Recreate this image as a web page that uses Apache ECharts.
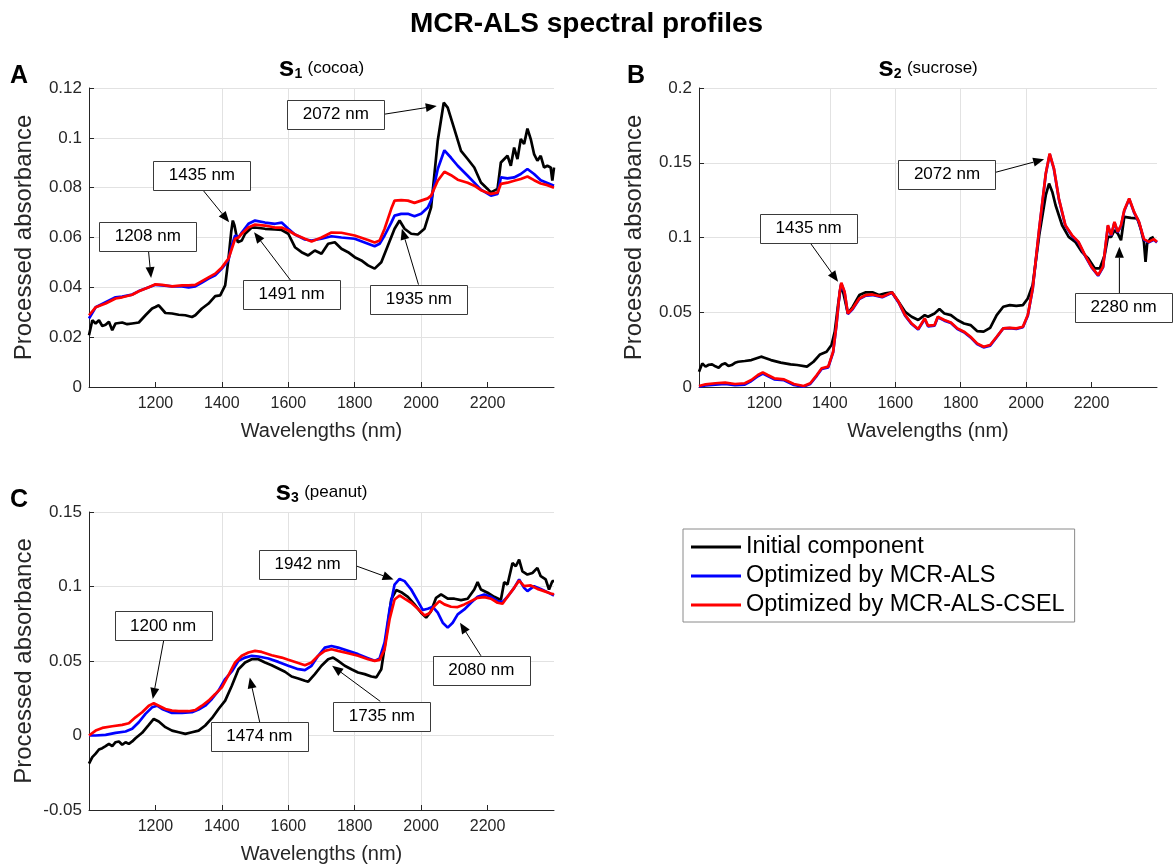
<!DOCTYPE html>
<html><head><meta charset="utf-8">
<script src="https://cdn.jsdelivr.net/npm/echarts@6/dist/echarts.min.js"></script>
<style>html,body{margin:0;padding:0;background:#fff}#c{width:1173px;height:865px}</style>
</head><body><div id="c"></div>
<script>
const FONT = '"Liberation Sans", Arial, Helvetica, sans-serif';
const seriesNames = ['Initial component', 'Optimized by MCR-ALS', 'Optimized by MCR-ALS-CSEL'];
const seriesColors = ['#000000', '#0000ff', '#ff0000'];
const panelLetters = ['A', 'B', 'C'];
const panelSubs = ['1', '2', '3'];
const panelNames = ['(cocoa)', '(sucrose)', '(peanut)'];
const xRange = [1000, 2400];
const xTicks = [1200, 1400, 1600, 1800, 2000, 2200];
const yTicksA = [0, 0.02, 0.04, 0.06, 0.08, 0.1, 0.12];
const yTicksB = [0, 0.05, 0.1, 0.15, 0.2];
const yTicksC = [-0.05, 0, 0.05, 0.1, 0.15];

// ---- Panel A: s1 (cocoa) ----
const s1Black = [[1000,0.0208],[1010,0.0268],[1020,0.0255],[1030,0.0268],[1040,0.0245],[1050,0.025],[1060,0.0262],[1070,0.0228],[1080,0.0255],[1100,0.0259],[1115,0.0252],[1130,0.0255],[1150,0.0259],[1170,0.0288],[1190,0.0315],[1200,0.0321],[1210,0.0328],[1230,0.0297],[1250,0.0295],[1270,0.029],[1290,0.0288],[1310,0.0281],[1320,0.0288],[1340,0.0315],[1360,0.0335],[1380,0.0365],[1395,0.0368],[1410,0.0408],[1420,0.0515],[1428,0.0621],[1433,0.0668],[1438,0.0648],[1448,0.0581],[1460,0.0588],[1470,0.0615],[1490,0.064],[1500,0.064],[1530,0.0635],[1560,0.0632],[1580,0.063],[1600,0.0615],[1620,0.0561],[1640,0.0541],[1660,0.0528],[1680,0.0548],[1700,0.0535],[1720,0.0575],[1740,0.0581],[1760,0.0555],[1780,0.0541],[1800,0.0521],[1820,0.0508],[1840,0.0488],[1860,0.0475],[1880,0.0501],[1900,0.0568],[1920,0.0635],[1935,0.0668],[1950,0.0635],[1970,0.0615],[1990,0.0612],[2010,0.0635],[2030,0.0721],[2050,0.0988],[2068,0.1141],[2080,0.1121],[2100,0.1035],[2120,0.0948],[2140,0.0915],[2160,0.0881],[2180,0.0821],[2200,0.0795],[2210,0.0781],[2230,0.0795],[2240,0.0901],[2260,0.0928],[2270,0.0888],[2280,0.0961],[2290,0.0915],[2300,0.0995],[2310,0.0975],[2320,0.1037],[2330,0.0995],[2340,0.0935],[2350,0.0908],[2360,0.0928],[2370,0.0881],[2380,0.0888],[2390,0.0881],[2395,0.0828],[2400,0.0881]];
const s1Blue = [[1000,0.0275],[1020,0.032],[1050,0.034],[1080,0.036],[1100,0.0363],[1130,0.0371],[1150,0.0385],[1180,0.040],[1200,0.041],[1220,0.0408],[1250,0.0404],[1280,0.0404],[1300,0.040],[1320,0.0404],[1340,0.0419],[1360,0.0435],[1380,0.0448],[1400,0.0475],[1420,0.051],[1430,0.0568],[1440,0.0608],[1450,0.060],[1460,0.062],[1480,0.0655],[1500,0.0668],[1530,0.066],[1560,0.0655],[1580,0.066],[1600,0.0635],[1620,0.0612],[1650,0.0592],[1670,0.0588],[1700,0.0595],[1730,0.0605],[1760,0.060],[1800,0.0595],[1840,0.0575],[1860,0.0565],[1875,0.0575],[1890,0.0608],[1910,0.066],[1920,0.0688],[1940,0.0695],[1960,0.0695],[1980,0.0685],[2000,0.0695],[2020,0.072],[2030,0.0748],[2050,0.0875],[2070,0.095],[2090,0.092],[2110,0.0888],[2140,0.0848],[2160,0.082],[2180,0.0792],[2210,0.0768],[2230,0.0775],[2240,0.0841],[2260,0.0837],[2280,0.0841],[2300,0.0855],[2320,0.0875],[2340,0.0855],[2360,0.083],[2380,0.0819],[2400,0.0808]];
const s1Red = [[1000,0.0288],[1020,0.032],[1050,0.0335],[1080,0.0355],[1100,0.036],[1130,0.037],[1150,0.0384],[1180,0.040],[1200,0.0412],[1220,0.041],[1250,0.0404],[1280,0.0408],[1300,0.0408],[1320,0.041],[1340,0.0425],[1360,0.044],[1380,0.0455],[1400,0.048],[1420,0.0515],[1430,0.0555],[1440,0.0595],[1450,0.060],[1460,0.0615],[1480,0.064],[1500,0.0652],[1530,0.0648],[1560,0.064],[1580,0.064],[1600,0.0628],[1620,0.0612],[1650,0.0595],[1670,0.0584],[1700,0.060],[1730,0.062],[1760,0.0619],[1800,0.0608],[1840,0.059],[1860,0.058],[1875,0.0588],[1890,0.0635],[1910,0.0715],[1920,0.0748],[1940,0.075],[1960,0.0748],[1980,0.0739],[2000,0.0748],[2020,0.0757],[2030,0.0768],[2050,0.0828],[2070,0.0864],[2090,0.085],[2110,0.0832],[2140,0.082],[2160,0.0808],[2180,0.079],[2210,0.0775],[2230,0.078],[2240,0.0815],[2260,0.082],[2280,0.0828],[2300,0.0835],[2320,0.0845],[2340,0.083],[2360,0.0817],[2380,0.081],[2400,0.080]];

// ---- Panel B: s2 (sucrose) ----
const s2Black = [[1000,0.0102],[1010,0.0158],[1020,0.0136],[1030,0.0149],[1040,0.0151],[1050,0.0138],[1060,0.0129],[1070,0.0150],[1080,0.0158],[1090,0.0140],[1100,0.0147],[1110,0.0162],[1120,0.0169],[1140,0.0174],[1160,0.018],[1190,0.0203],[1200,0.0196],[1220,0.018],[1250,0.0163],[1280,0.0151],[1300,0.0147],[1330,0.0136],[1350,0.0169],[1370,0.0218],[1390,0.0236],[1405,0.0281],[1415,0.037],[1425,0.0548],[1435,0.0688],[1445,0.0592],[1455,0.0492],[1470,0.0537],[1490,0.0615],[1510,0.0633],[1530,0.0633],[1550,0.0615],[1570,0.0626],[1590,0.0633],[1610,0.057],[1630,0.0503],[1650,0.047],[1670,0.0448],[1690,0.0481],[1700,0.047],[1720,0.0492],[1735,0.0521],[1750,0.0492],[1770,0.0481],[1790,0.0448],[1810,0.0425],[1830,0.0414],[1850,0.0374],[1870,0.037],[1890,0.0396],[1910,0.0481],[1930,0.0537],[1950,0.0548],[1970,0.0543],[1990,0.0548],[2005,0.0592],[2020,0.0682],[2040,0.1016],[2060,0.1283],[2070,0.1361],[2080,0.1305],[2090,0.1216],[2110,0.1082],[2130,0.1004],[2150,0.0971],[2170,0.0904],[2190,0.086],[2210,0.0793],[2225,0.0793],[2240,0.0882],[2250,0.1004],[2260,0.1004],[2270,0.1049],[2280,0.1027],[2290,0.0982],[2300,0.1138],[2320,0.1131],[2340,0.1127],[2350,0.106],[2360,0.0971],[2365,0.0837],[2370,0.096],[2380,0.0993],[2390,0.1004]];
const s2Blue = [[1000,0.0002],[1020,0.001],[1050,0.0016],[1080,0.002],[1110,0.0012],[1140,0.0016],[1160,0.004],[1180,0.0072],[1195,0.009],[1210,0.0073],[1230,0.0051],[1260,0.0045],[1290,0.0014],[1320,0.0003],[1340,0.002],[1360,0.0075],[1375,0.012],[1395,0.0131],[1410,0.0232],[1420,0.041],[1430,0.0633],[1435,0.0692],[1445,0.0632],[1455,0.0488],[1470,0.0522],[1490,0.0588],[1510,0.0611],[1530,0.0615],[1560,0.06],[1590,0.063],[1610,0.0566],[1630,0.0477],[1650,0.0421],[1670,0.0384],[1690,0.0455],[1700,0.0406],[1720,0.041],[1730,0.0466],[1750,0.0444],[1770,0.0428],[1790,0.0388],[1810,0.0366],[1830,0.0332],[1850,0.0288],[1870,0.0265],[1890,0.0277],[1910,0.0334],[1930,0.0392],[1950,0.0394],[1970,0.0389],[1990,0.0400],[2005,0.0477],[2020,0.0655],[2040,0.1056],[2060,0.1424],[2072,0.1557],[2085,0.1457],[2100,0.1257],[2120,0.1078],[2140,0.1012],[2160,0.0967],[2180,0.0878],[2200,0.08],[2220,0.0744],[2235,0.08],[2250,0.1078],[2260,0.1012],[2270,0.1101],[2280,0.1034],[2290,0.1078],[2300,0.1179],[2315,0.1257],[2330,0.1167],[2345,0.1101],[2360,0.0985],[2375,0.0967],[2390,0.0985],[2400,0.0967]];
const s2Red = [[1000,0.0007],[1020,0.0018],[1050,0.0025],[1080,0.0029],[1110,0.002],[1140,0.0025],[1160,0.0047],[1180,0.008],[1195,0.0098],[1210,0.008],[1230,0.0058],[1260,0.0051],[1290,0.002],[1320,0.0007],[1340,0.0025],[1360,0.008],[1375,0.0125],[1395,0.0136],[1410,0.0236],[1420,0.0414],[1430,0.0637],[1435,0.0697],[1445,0.0637],[1455,0.0492],[1470,0.0526],[1490,0.0592],[1510,0.0615],[1530,0.0619],[1560,0.0604],[1590,0.0633],[1610,0.057],[1630,0.0481],[1650,0.0425],[1670,0.0388],[1690,0.0459],[1700,0.041],[1720,0.0414],[1730,0.047],[1750,0.0448],[1770,0.0432],[1790,0.0392],[1810,0.037],[1830,0.0336],[1850,0.0292],[1870,0.0269],[1890,0.0281],[1910,0.0336],[1930,0.0392],[1950,0.0396],[1970,0.0392],[1990,0.0403],[2005,0.0481],[2020,0.0659],[2040,0.106],[2060,0.1428],[2072,0.1561],[2085,0.1461],[2100,0.1261],[2120,0.1082],[2140,0.1016],[2160,0.0971],[2180,0.0882],[2200,0.0804],[2220,0.0748],[2235,0.0804],[2250,0.1082],[2260,0.1016],[2270,0.1105],[2280,0.1038],[2290,0.1082],[2300,0.1183],[2315,0.1261],[2330,0.1171],[2345,0.1105],[2360,0.0989],[2375,0.0971],[2390,0.0989],[2400,0.0971]];

// ---- Panel C: s3 (peanut) ----
const s3Black = [[1000,-0.0189],[1010,-0.0145],[1020,-0.0122],[1030,-0.0094],[1040,-0.0085],[1050,-0.0071],[1060,-0.0056],[1070,-0.0071],[1080,-0.0045],[1090,-0.004],[1100,-0.0062],[1110,-0.0045],[1120,-0.0056],[1130,-0.004],[1140,-0.0018],[1160,0.0018],[1180,0.0071],[1195,0.0111],[1210,0.0094],[1230,0.0056],[1250,0.0033],[1270,0.0022],[1290,0.0011],[1310,0.0022],[1330,0.0033],[1350,0.0067],[1370,0.0116],[1390,0.0178],[1410,0.0234],[1430,0.0334],[1450,0.0445],[1470,0.049],[1490,0.0512],[1510,0.0512],[1530,0.049],[1550,0.0472],[1570,0.045],[1590,0.0428],[1610,0.0396],[1630,0.0383],[1650,0.0367],[1660,0.0361],[1680,0.0412],[1700,0.0468],[1720,0.0512],[1735,0.0523],[1750,0.0501],[1770,0.0468],[1790,0.0445],[1810,0.0423],[1830,0.0412],[1850,0.0396],[1865,0.039],[1880,0.0445],[1895,0.0668],[1910,0.0913],[1925,0.0976],[1940,0.0962],[1960,0.0931],[1980,0.088],[2000,0.0824],[2015,0.0791],[2030,0.0835],[2045,0.0924],[2060,0.0947],[2080,0.0918],[2100,0.0918],[2120,0.0909],[2140,0.0918],[2160,0.098],[2170,0.1029],[2180,0.098],[2200,0.0958],[2220,0.0931],[2240,0.0909],[2250,0.1029],[2260,0.1013],[2275,0.1158],[2285,0.1136],[2295,0.118],[2305,0.1102],[2320,0.108],[2335,0.1091],[2350,0.1125],[2360,0.1069],[2375,0.1047],[2385,0.098],[2395,0.1036],[2400,0.1036]];
const s3Blue = [[1000,0],[1020,0],[1050,0.0004],[1080,0.0018],[1110,0.0027],[1130,0.0045],[1150,0.0089],[1170,0.0145],[1190,0.0189],[1205,0.02],[1220,0.0178],[1250,0.0151],[1280,0.0151],[1310,0.0156],[1330,0.0174],[1350,0.02],[1370,0.0245],[1390,0.0301],[1410,0.0379],[1430,0.043],[1450,0.0501],[1470,0.0523],[1490,0.0535],[1510,0.053],[1540,0.0517],[1570,0.0494],[1600,0.0468],[1630,0.0445],[1650,0.0439],[1670,0.0468],[1690,0.0535],[1710,0.059],[1730,0.0601],[1750,0.059],[1780,0.0568],[1810,0.0546],[1840,0.0519],[1860,0.0501],[1875,0.0517],[1890,0.0624],[1905,0.0846],[1920,0.1013],[1935,0.1051],[1950,0.1036],[1970,0.098],[1990,0.0902],[2005,0.0842],[2020,0.0851],[2035,0.0864],[2050,0.0824],[2065,0.0757],[2080,0.0724],[2095,0.0757],[2110,0.0813],[2130,0.0846],[2150,0.0891],[2170,0.0931],[2190,0.0947],[2210,0.0931],[2230,0.0902],[2245,0.0895],[2260,0.0931],[2280,0.0991],[2295,0.1047],[2310,0.0991],[2320,0.0969],[2340,0.1002],[2360,0.0984],[2380,0.0962],[2400,0.094]];
const s3Red = [[1000,0],[1020,0.0033],[1040,0.0051],[1070,0.0062],[1100,0.0071],[1120,0.0082],[1140,0.0122],[1160,0.0156],[1180,0.02],[1195,0.0216],[1210,0.02],[1230,0.0178],[1250,0.0167],[1270,0.0163],[1300,0.0163],[1320,0.0171],[1340,0.02],[1360,0.0234],[1380,0.0278],[1400,0.0323],[1420,0.0405],[1440,0.049],[1460,0.0535],[1480,0.0557],[1500,0.0568],[1520,0.0561],[1550,0.0539],[1580,0.0523],[1600,0.0508],[1630,0.0486],[1650,0.0472],[1670,0.049],[1690,0.0535],[1710,0.0568],[1730,0.0579],[1750,0.0568],[1780,0.0552],[1810,0.0535],[1840,0.0512],[1860,0.0501],[1875,0.0508],[1890,0.0579],[1905,0.078],[1920,0.0913],[1935,0.094],[1950,0.0918],[1970,0.0891],[1990,0.0851],[2010,0.0806],[2025,0.082],[2040,0.0869],[2055,0.0902],[2070,0.088],[2090,0.0864],[2110,0.0862],[2130,0.088],[2150,0.0902],[2170,0.0924],[2190,0.0929],[2210,0.0918],[2230,0.0891],[2245,0.0884],[2260,0.0931],[2280,0.0991],[2295,0.104],[2310,0.1002],[2330,0.1007],[2350,0.0984],[2370,0.0969],[2390,0.0953],[2400,0.0947]];

// ---- Annotations (data coordinates) ----
const annA = [
  {label: '2072 nm', box: [1743, 0.1095], tail: [1890, 0.1095], tip: [2047, 0.1128]},
  {label: '1435 nm', box: [1340, 0.085], tail: [1342, 0.0792], tip: [1422, 0.0661]},
  {label: '1208 nm', box: [1177, 0.0605], tail: [1179, 0.0548], tip: [1187, 0.0437]},
  {label: '1491 nm', box: [1610, 0.037], tail: [1607, 0.0428], tip: [1497, 0.0621]},
  {label: '1935 nm', box: [1993, 0.0351], tail: [1992, 0.0411], tip: [1942, 0.0635]}
];
const annB = [
  {label: '2072 nm', box: [1758, 0.1423], tail: [1903, 0.1434], tip: [2055, 0.1523]},
  {label: '1435 nm', box: [1335, 0.106], tail: [1340, 0.0964], tip: [1425, 0.0704]},
  {label: '2280 nm', box: [2298, 0.053], tail: [2285, 0.0626], tip: [2285, 0.0938]}
];
const annC = [
  {label: '1942 nm', box: [1658, 0.1151], tail: [1802, 0.114], tip: [1917, 0.1047]},
  {label: '1200 nm', box: [1223, 0.0735], tail: [1225, 0.0639], tip: [1192, 0.0245]},
  {label: '1474 nm', box: [1513, -0.0007], tail: [1514, 0.0089], tip: [1484, 0.039]},
  {label: '1735 nm', box: [1882, 0.0129], tail: [1877, 0.0229], tip: [1732, 0.0468]},
  {label: '2080 nm', box: [2181, 0.0439], tail: [2180, 0.0535], tip: [2117, 0.0757]}
];

const panelData = [[s1Black, s1Blue, s1Red], [s2Black, s2Blue, s2Red], [s3Black, s3Blue, s3Red]];
const panelYTicks = [yTicksA, yTicksB, yTicksC];
const panelAnns = [annA, annB, annC];

// layout
const grids = [
  {left: 89, top: 88, width: 465, height: 299},
  {left: 699, top: 88, width: 458, height: 299},
  {left: 89, top: 512, width: 465, height: 299}
];
const letterOffsets = [70, 63, 70];

const chart = echarts.init(document.getElementById('c'), null, {renderer: 'canvas'});
const TXT = '#262626';

const xAxes = grids.map((g, i) => ({
  gridIndex: i, type: 'value', min: xRange[0], max: xRange[1], interval: 200,
  axisLine: {show: true, onZero: false, lineStyle: {color: TXT, width: 1}},
  axisTick: {show: true, inside: true, length: 5, lineStyle: {color: TXT}, customValues: xTicks},
  axisLabel: {customValues: xTicks, formatter: v => String(v), fontSize: 16, color: TXT, margin: 9, fontFamily: FONT},
  splitLine: {show: true, showMinLine: false, showMaxLine: false, lineStyle: {color: '#e2e2e2', width: 1}},
  name: 'Wavelengths (nm)', nameLocation: 'middle', nameGap: 34,
  nameTextStyle: {fontSize: 20, color: TXT, fontFamily: FONT}
}));
const yAxes = grids.map((g, i) => {
  const t = panelYTicks[i];
  return {
    gridIndex: i, type: 'value', min: t[0], max: t[t.length - 1], interval: t[1] - t[0],
    axisLine: {show: true, onZero: false, lineStyle: {color: TXT, width: 1}},
    axisTick: {show: true, inside: true, length: 5, lineStyle: {color: TXT}},
    axisLabel: {formatter: v => String(parseFloat(v.toFixed(3))), fontSize: 17, color: TXT, margin: 7, fontFamily: FONT},
    splitLine: {show: true, lineStyle: {color: '#e2e2e2', width: 1}},
    name: 'Processed absorbance', nameLocation: 'middle', nameGap: 53,
    nameTextStyle: {fontSize: 24, color: TXT, fontFamily: FONT}
  };
});

const series = [];
panelData.forEach((arrs, gi) => {
  arrs.forEach((d, si) => {
    series.push({
      type: 'line', name: seriesNames[si], xAxisIndex: gi, yAxisIndex: gi,
      data: d, showSymbol: false, symbol: 'none', smooth: false,
      lineStyle: {color: seriesColors[si], width: 2.7},
      itemStyle: {color: seriesColors[si]},
      z: 2 + si, animation: false
    });
  });
});

const headerEls = [];
grids.forEach((g, i) => {
  headerEls.push({
    type: 'text', x: g.left + g.width / 2, y: g.top - 20, z: 50,
    style: {
      text: '{s|s}{sub|' + panelSubs[i] + '} {n|' + panelNames[i] + '}',
      align: 'center', verticalAlign: 'middle',
      rich: {
        s: {fontSize: 28, fontWeight: 'bold', fontFamily: FONT, fill: '#000', verticalAlign: 'middle'},
        sub: {fontSize: 14, fontWeight: 'bold', fontFamily: FONT, fill: '#000', padding: [12, 2, 0, 0], verticalAlign: 'middle'},
        n: {fontSize: 17, fontFamily: FONT, fill: '#000', verticalAlign: 'middle'}
      }
    }
  });
  headerEls.push({
    type: 'text', x: g.left - letterOffsets[i], y: g.top - 12, z: 50,
    style: {text: panelLetters[i], font: 'bold 25px ' + FONT, fill: '#000', align: 'center', verticalAlign: 'middle'}
  });
});

chart.setOption({
  animation: false,
  backgroundColor: '#ffffff',
  title: {text: 'MCR-ALS spectral profiles', left: 'center', top: 5,
    textStyle: {fontSize: 28, fontWeight: 'bold', color: '#000', fontFamily: FONT}},
  legend: {
    orient: 'vertical', left: 683, top: 529, data: seriesNames,
    icon: 'rect', itemWidth: 50, itemHeight: 3, itemGap: 5,
    textStyle: {fontSize: 23.5, color: '#000', lineHeight: 22, fontFamily: FONT},
    borderColor: '#8a8a8a', borderWidth: 1, padding: [6, 10, 5, 8], backgroundColor: '#fff',
    selectedMode: false
  },
  grid: grids.map(g => Object.assign({containLabel: false}, g)),
  xAxis: xAxes, yAxis: yAxes, series: series,
  graphic: {elements: headerEls}
});

// annotations via library scales
const annEls = [];
panelAnns.forEach((list, gi) => {
  list.forEach(a => {
    const c = chart.convertToPixel({gridIndex: gi}, a.box);
    const t = chart.convertToPixel({gridIndex: gi}, a.tail);
    const p = chart.convertToPixel({gridIndex: gi}, a.tip);
    const ang = Math.atan2(p[1] - t[1], p[0] - t[0]);
    const L = 11, W = 4.5;
    const cs = Math.cos(ang), sn = Math.sin(ang);
    const bx = p[0] - L * cs, by = p[1] - L * sn;
    annEls.push({type: 'line', z: 100, shape: {x1: t[0], y1: t[1], x2: bx, y2: by}, style: {stroke: '#000', lineWidth: 1}});
    annEls.push({type: 'polygon', z: 100, shape: {points: [[p[0], p[1]], [bx - W * sn, by + W * cs], [bx + W * sn, by - W * cs]]}, style: {fill: '#000'}});
    annEls.push({type: 'rect', z: 101, shape: {x: Math.round(c[0] - 48.5) + 0.5, y: Math.round(c[1] - 14.5) + 0.5, width: 97, height: 29}, style: {fill: '#fff', stroke: '#3a3a3a', lineWidth: 1}});
    annEls.push({type: 'text', z: 102, x: c[0], y: c[1], style: {text: a.label, font: '17px ' + FONT, fill: '#000', align: 'center', verticalAlign: 'middle'}});
  });
});
chart.setOption({graphic: {elements: headerEls.concat(annEls)}});
</script>
</body></html>
